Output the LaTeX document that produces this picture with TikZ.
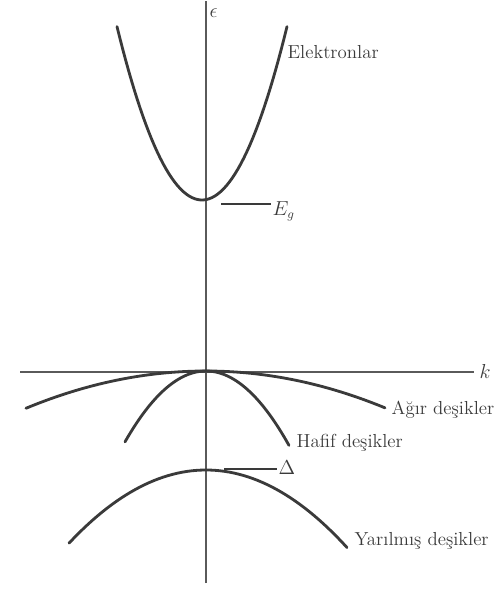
\documentclass[tikz,border=0pt]{standalone}
\usetikzlibrary{positioning}
\definecolor{Ink}{HTML}{3A3A3A}
\definecolor{AxisGray}{HTML}{5A5A5A}
\tikzset{
  band/.style={line width=2pt, draw=Ink, line cap=round},
  axis/.style={line width=0.9pt, draw=AxisGray},
  leader/.style={line width=0.9pt, draw=Ink},
  tag/.style={font=\fontsize{13.4}{15}\selectfont, text=Ink, inner sep=1pt}
}
\begin{document}
\begin{tikzpicture}[x=0.025cm,y=-0.025cm]
    \useasboundingbox (0,0) rectangle (497,592);
    % axes
    \coordinate (etop) at (206,1);
    \coordinate (ebot) at (206,583);
    \coordinate (kleft) at (20,372);
    \coordinate (kright) at (474,372);
    \draw[axis] (ebot)--(etop);
    \draw[axis] (kleft)--(kright);
    \node[tag,anchor=west] (eps) at (208,13) {$\epsilon$};
    \node[tag,anchor=west] (kk) at (478,371) {$k$};
    % bands
    \draw[band] plot[domain=-8.5:8.5,samples=60] ({202+10*\x},{200-2.4*\x*\x});
    \draw[band] plot[domain=-18:17.9,samples=60] ({206+10*\x},{371+0.115*\x*\x});
    \draw[band] plot[domain=-8.1:8.3,samples=60] ({206+10*\x},{371+1.08*\x*\x});
    \draw[band] plot[domain=-13.7:14.1,samples=60] ({206+10*\x},{470+0.39*\x*\x});
    % labels
    \node[tag,anchor=base west] (el) at (286,58) {Elektronlar};
    \node[tag,anchor=base west] (eg) at (271,215) {$E_g$};
    \coordinate (egl) at (221,204);
    \draw[leader] (egl)--(eg.west|-egl);
    \node[tag,anchor=base west] (heavy) at (390,414) {Ağır deşikler};
    \node[tag,anchor=base west] (light) at (295,447) {Hafif deşikler};
    \node[tag,anchor=base west] (delta) at (277,474) {$\Delta$};
    \coordinate (dl) at (224,469);
    \draw[leader] (dl)--(delta.west|-dl);
    \node[tag,anchor=base west] (split) at (353,545) {Yarılmış deşikler};
\end{tikzpicture}
\end{document}
